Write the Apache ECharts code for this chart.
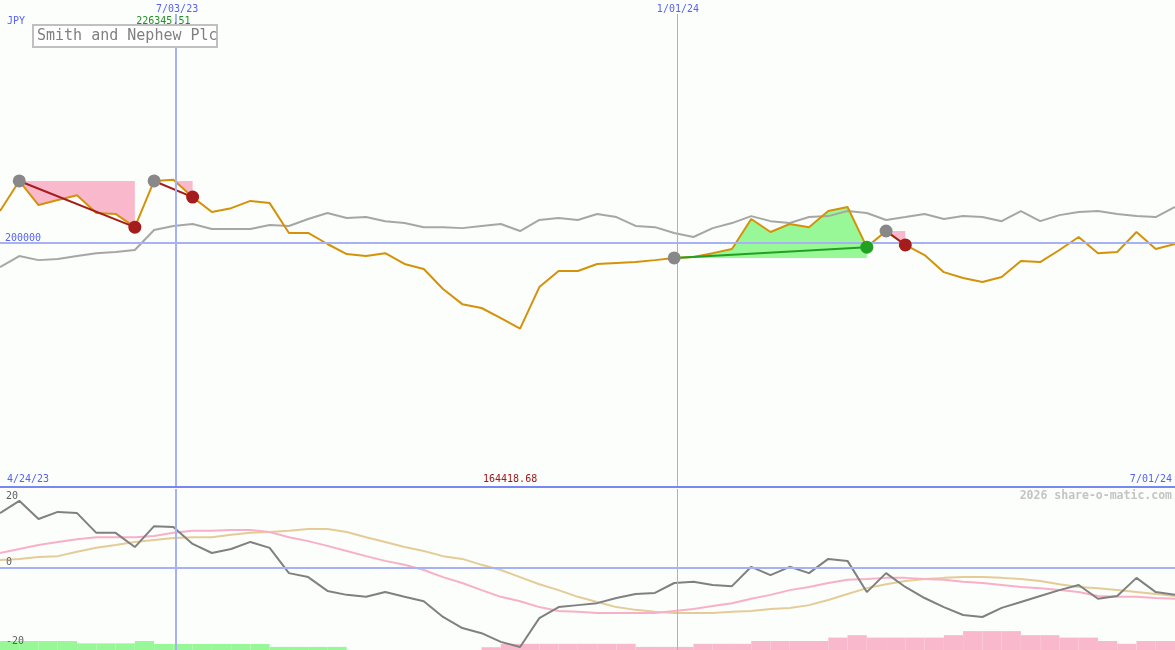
<!DOCTYPE html>
<html><head><meta charset="utf-8">
<script src="https://cdn.jsdelivr.net/npm/echarts@6/dist/echarts.min.js"></script>
<style>html,body{margin:0;padding:0;background:#fbfefb}#c{width:1175px;height:650px}</style>
</head><body><div id="c"></div>
<script>
// ---------- data ----------
const dates = ['2023-04-30','2023-05-07','2023-05-14','2023-05-21','2023-05-28','2023-06-04','2023-06-11','2023-06-18','2023-06-25','2023-07-02',
'2023-07-09','2023-07-16','2023-07-23','2023-07-30','2023-08-06','2023-08-13','2023-08-20','2023-08-27','2023-09-03','2023-09-10',
'2023-09-17','2023-09-24','2023-10-01','2023-10-08','2023-10-15','2023-10-22','2023-10-29','2023-11-05','2023-11-12','2023-11-19',
'2023-11-26','2023-12-03','2023-12-10','2023-12-17','2023-12-24','2023-12-31','2024-01-07','2024-01-14','2024-01-21','2024-01-28',
'2024-02-04','2024-02-11','2024-02-18','2024-02-25','2024-03-03','2024-03-10','2024-03-17','2024-03-24','2024-03-31','2024-04-07',
'2024-04-14','2024-04-21','2024-04-28','2024-05-05','2024-05-12','2024-05-19','2024-05-26','2024-06-02','2024-06-09','2024-06-16',
'2024-06-23','2024-06-30'];
const price = [213300,225800,215800,217900,219900,212500,212100,206600,225800,226345.51,
219100,212900,214500,217500,216600,204200,204200,199600,195400,194600,
195800,191300,189200,180900,174600,173000,168800,164418.68,181700,188400,
188400,191300,191700,192100,192900,193800,194200,195800,197500,210000,
204600,207900,206600,213300,215000,198300,205000,199200,195000,187900,
185500,183800,185900,192500,192100,197100,202500,195800,196300,204600,
197500,199600];
const compare = [190000,194600,192900,193400,194600,195800,196300,197100,205400,207100,
207900,205800,205800,205800,207500,207100,210000,212500,210400,210800,
209100,208300,206600,206600,206200,207100,207900,205000,209600,210400,
209600,212100,210800,207100,206600,204200,202500,206200,208300,211200,
209100,208300,210800,211200,213300,212500,209600,210800,212100,210000,
211200,210800,209100,213300,209100,211600,212900,213300,212100,211200,
210800,215000];
const momentum = [13.9,17.0,12.4,14.2,13.9,8.9,8.9,5.3,10.6,10.4,
6.1,3.8,4.8,6.6,5.1,-1.3,-2.3,-5.8,-6.8,-7.3,
-6.1,-7.3,-8.4,-12.4,-15.2,-16.5,-18.7,-20.0,-12.7,-9.9,
-9.4,-8.9,-7.6,-6.6,-6.3,-3.8,-3.5,-4.3,-4.6,0.3,
-1.8,0.3,-1.3,2.3,1.8,-6.1,-1.3,-4.8,-7.6,-9.9,
-11.9,-12.4,-10.1,-8.6,-7.1,-5.6,-4.3,-7.8,-7.1,-2.5,
-6.1,-6.8];
const avgFast = [3.8,4.8,5.8,6.6,7.3,7.8,7.8,7.8,8.1,8.9,
9.4,9.4,9.6,9.6,9.1,7.8,6.8,5.6,4.3,3.0,
1.8,0.8,-0.5,-2.3,-3.8,-5.6,-7.3,-8.4,-9.9,-10.9,
-11.1,-11.4,-11.4,-11.4,-11.4,-10.9,-10.4,-9.6,-8.9,-7.8,
-6.8,-5.6,-4.8,-3.8,-3.0,-2.8,-2.5,-2.5,-2.8,-3.0,
-3.5,-3.8,-4.3,-4.8,-5.1,-5.6,-6.1,-7.1,-7.3,-7.3,
-7.6,-7.8];
const avgSlow = [2.0,2.3,2.8,3.0,4.1,5.1,5.8,6.6,7.1,7.6,
7.8,7.8,8.4,8.9,9.1,9.4,9.9,9.9,9.1,7.8,
6.6,5.3,4.3,3.0,2.3,0.8,-0.5,-2.3,-4.1,-5.6,
-7.3,-8.6,-9.9,-10.6,-11.1,-11.4,-11.4,-11.4,-11.1,-10.9,
-10.4,-10.1,-9.4,-8.1,-6.6,-5.1,-4.1,-3.3,-2.8,-2.5,
-2.3,-2.3,-2.5,-2.8,-3.3,-4.1,-4.8,-5.1,-5.6,-6.1,
-6.6,-7.1];
const signalBars = [2.9,2.9,2.9,2.9,2.15,2.15,2.15,2.9,1.95,1.95,
1.95,1.95,1.95,1.95,1.0,1.0,1.0,1.0,0,0,
0,0,0,0,0,-0.9,-2.0,-2.0,-2.0,-2.0,
-2.0,-2.0,-2.0,-1.0,-1.0,-1.0,-2.0,-2.0,-2.0,-2.9,
-2.9,-2.9,-2.9,-4.0,-4.8,-4.0,-4.0,-4.0,-4.0,-4.8,
-6.1,-6.1,-6.1,-4.8,-4.8,-4.0,-4.0,-2.9,-2.0,-2.9,
-2.9,0];
const tradeEntry = [1, 8, 35, 46];
const tradeExit = [7, 10, 45, 47];
const priceTicks = [200000];
const oscTicks = [20, 0, -20];
const markerDates = ['2023-07-03', '2024-01-01'];
const markerLabels = ['7/03/23', '1/01/24'];
const rangeLabels = ['4/24/23', '7/01/24'];
const currency = 'JPY';
const titleText = 'Smith and Nephew Plc';
const credit = '2026 share-o-matic.com';

// ---------- chart ----------
const toTs = s => new Date(s + 'T00:00:00').getTime();
const ts = dates.map(toTs);
const WEEK = 7 * 86400000;
const MONO = '"DejaVu Sans Mono", "Liberation Mono", monospace';
const BLUE = '#5862f2';
const LINEBLUE = '#a6b2f4';
const GREENFILL = '#98f898';
const PINKFILL = '#f9b8cc';
const LOSS = '#a41c1c';
const WIN = '#22a022';

const chart = echarts.init(document.getElementById('c'), null, {renderer: 'canvas'});

let maxI = 0, minI = 0;
price.forEach((v, i) => { if (v > price[maxI]) maxI = i; if (v < price[minI]) minI = i; });

function tradeArea(params, api) {
  const k = params.dataIndex;
  const a = tradeEntry[k], b = tradeExit[k];
  const base = price[a];
  const pts = [];
  for (let i = a; i <= b; i++) {
    if (i > a) {
      const d0 = price[i - 1] - base, d1 = price[i] - base;
      if (d0 * d1 < 0) {
        const f = d0 / (d0 - d1);
        pts.push([ts[i - 1] + f * (ts[i] - ts[i - 1]), base]);
      }
    }
    pts.push([ts[i], price[i]]);
  }
  const up = pts.map(p => api.coord([p[0], Math.max(p[1], base)]));
  const dn = pts.map(p => api.coord([p[0], Math.min(p[1], base)]));
  const e0 = api.coord([ts[a], base]), e1 = api.coord([ts[b], base]);
  up.push(e1, e0); dn.push(e1, e0);
  return {type: 'group', children: [
    {type: 'polygon', shape: {points: dn}, style: {fill: PINKFILL}},
    {type: 'polygon', shape: {points: up}, style: {fill: GREENFILL}}
  ]};
}

function barItem(params, api) {
  const i = params.dataIndex;
  const v = signalBars[i];
  if (!v) return null;
  const next = i + 1 < ts.length ? ts[i + 1] : ts[i] + WEEK;
  const p0 = api.coord([ts[i], Math.abs(v)]);
  const p1 = api.coord([next, 0]);
  return {type: 'rect', shape: {x: p0[0], y: p0[1], width: p1[0] - p0[0], height: p1[1] - p0[1]},
    style: {fill: v > 0 ? GREENFILL : PINKFILL}};
}

const tradeLines = tradeEntry.map((a, k) => {
  const b = tradeExit[k];
  const win = price[b] > price[a];
  return {coords: [[ts[a], price[a]], [ts[b], price[b]]], lineStyle: {color: win ? WIN : LOSS, width: 2, opacity: 1}};
});
const tradeDots = [];
tradeEntry.forEach((a, k) => {
  const b = tradeExit[k];
  const win = price[b] > price[a];
  tradeDots.push({value: [ts[a], price[a]], itemStyle: {color: '#888888', opacity: 1}});
  tradeDots.push({value: [ts[b], price[b]], itemStyle: {color: win ? WIN : LOSS, opacity: 1}});
});

const vMarks = () => markerDates.map((d, i) => ({xAxis: toTs(d), lineStyle: {width: i === 0 ? 2 : 1, color: i === 0 ? LINEBLUE : '#a4aeea', type: 'solid', opacity: 1}}));

const option = {
  animation: false,
  backgroundColor: '#fbfefb',
  grid: [
    {left: 0, right: 0, top: 14, bottom: 163},
    {left: 0, right: 0, top: 489, bottom: 0}
  ],
  xAxis: [
    {type: 'time', gridIndex: 0, min: ts[0], max: ts[ts.length - 1], show: false},
    {type: 'time', gridIndex: 1, min: ts[0], max: ts[ts.length - 1], show: false}
  ],
  yAxis: [
    {type: 'value', gridIndex: 0, min: 98600, max: 295200, show: false},
    {type: 'value', gridIndex: 1, min: -20.76, max: 20, show: false},
    {type: 'value', gridIndex: 1, min: 0, max: 52, show: false}
  ],
  series: [
    {type: 'line', xAxisIndex: 0, yAxisIndex: 0, data: [], z: 0, silent: true,
      markLine: {symbol: 'none', silent: true, label: {show: false},
        data: vMarks().concat(priceTicks.map(v => ({yAxis: v, lineStyle: {width: 2, color: LINEBLUE, type: 'solid', opacity: 1}})))}},
    {type: 'line', xAxisIndex: 1, yAxisIndex: 1, data: [], z: 0, silent: true,
      markLine: {symbol: 'none', silent: true, label: {show: false},
        data: vMarks().concat([{yAxis: 0, lineStyle: {width: 2, color: LINEBLUE, type: 'solid', opacity: 1}}])}},
    {type: 'custom', xAxisIndex: 0, yAxisIndex: 0, z: 1, renderItem: tradeArea,
      data: tradeEntry.map(a => [ts[a], price[a]]), encode: {x: 0, y: 1}},
    {type: 'line', name: 'compare', xAxisIndex: 0, yAxisIndex: 0, z: 2, symbol: 'none',
      data: compare.map((v, i) => [ts[i], v]), lineStyle: {color: '#a6a6a6', width: 2}},
    {type: 'line', name: 'price', xAxisIndex: 0, yAxisIndex: 0, z: 3, symbol: 'none',
      data: price.map((v, i) => [ts[i], v]), lineStyle: {color: '#d4920a', width: 2}},
    {type: 'lines', coordinateSystem: 'cartesian2d', xAxisIndex: 0, yAxisIndex: 0, z: 4, data: tradeLines,
      lineStyle: {opacity: 1}},
    {type: 'scatter', xAxisIndex: 0, yAxisIndex: 0, z: 5, symbolSize: 13, data: tradeDots,
      itemStyle: {opacity: 1}},
    {type: 'custom', xAxisIndex: 1, yAxisIndex: 2, z: 1, renderItem: barItem,
      data: signalBars.map((v, i) => [ts[i], Math.abs(v)]), encode: {x: 0, y: 1}},
    {type: 'line', xAxisIndex: 1, yAxisIndex: 1, z: 2, symbol: 'none',
      data: avgSlow.map((v, i) => [ts[i], v]), lineStyle: {color: '#e4cc98', width: 2}},
    {type: 'line', xAxisIndex: 1, yAxisIndex: 1, z: 3, symbol: 'none',
      data: avgFast.map((v, i) => [ts[i], v]), lineStyle: {color: '#f8b0c8', width: 2}},
    {type: 'line', xAxisIndex: 1, yAxisIndex: 1, z: 4, symbol: 'none',
      data: momentum.map((v, i) => [ts[i], v]), lineStyle: {color: '#808080', width: 2}}
  ]
};
chart.setOption(option);

// ---------- text labels positioned through the axes ----------
const px = (ai, v) => chart.convertToPixel({xAxisIndex: ai}, v);
const py = (ai, v) => chart.convertToPixel({yAxisIndex: ai}, v);
const txt = (text, x, y, color, opts) => Object.assign({type: 'text', x: x, y: y, z: 50,
  style: Object.assign({text: text, fill: color, font: '10px ' + MONO, textVerticalAlign: 'middle', textAlign: 'left'}, opts || {})});

const sepY = py(0, 98600);
const g = [];
g.push({type: 'line', z: 40, shape: {x1: 0, y1: sepY, x2: 1175, y2: sepY}, style: {stroke: '#7888f0', lineWidth: 2}});
markerDates.forEach((d, i) => g.push(txt(markerLabels[i], px(0, toTs(d)) + 1, 9, BLUE, {textAlign: 'center'})));
g.push(txt(currency, 7, 21, BLUE));
g.push(txt(price[maxI].toFixed(2), px(0, ts[maxI]) - 10, 21, '#209020', {textAlign: 'center'}));
g.push(txt(price[minI].toFixed(2), px(0, ts[minI]) - 10, sepY - 8, '#a01818', {textAlign: 'center'}));
g.push(txt(rangeLabels[0], 7, sepY - 8, BLUE));
g.push(txt(rangeLabels[1], 1172, sepY - 8, BLUE, {textAlign: 'right'}));
priceTicks.forEach(v => g.push(txt(String(v), 5, py(0, v) - 5, BLUE)));
oscTicks.forEach(v => {
  const y = Math.max(py(1, v) - 6, sepY + 9);
  g.push(txt(String(v), 6, y, '#606060'));
});
g.push(txt(credit, 1172, sepY + 9, '#c4c4c4', {textAlign: 'right', font: 'bold 11.5px ' + MONO}));
g.push({type: 'rect', z: 45, shape: {x: 33, y: 25, width: 184, height: 22}, style: {fill: '#ffffff', stroke: '#c0c0c0', lineWidth: 2}});
g.push(txt(titleText, 37, 36, '#808080', {font: '15px ' + MONO}));
chart.setOption({graphic: g});
</script>
</body></html>
